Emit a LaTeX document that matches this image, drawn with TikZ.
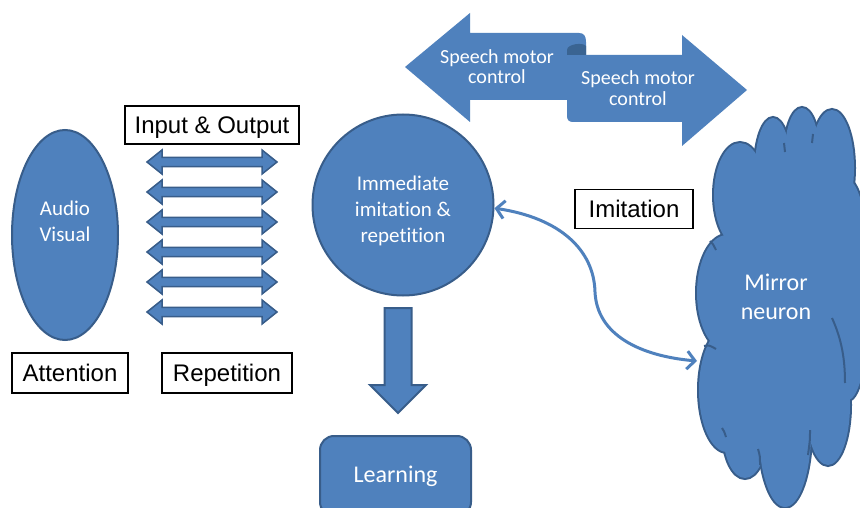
\documentclass[tikz,border=0pt]{standalone}
\usepackage{fontspec}
\setmainfont{Liberation Sans}
\newfontfamily\calibri[Ligatures=NoCommon]{Carlito}
\usetikzlibrary{arrows.meta,shapes.geometric}
\definecolor{fillblue}{HTML}{4F81BD}
\definecolor{lineblue}{HTML}{385D8A}
\definecolor{rolldark}{HTML}{3A6492}

\begin{document}
\begin{tikzpicture}[x=1pt,y=-1pt,
    blueshape/.style={fill=fillblue,draw=lineblue,line width=2pt},
    inwhite/.style={text=white,align=center,font=\calibri\fontsize{21}{26}\selectfont},
    tagbox/.style={draw=black,line width=1.2pt,fill=white,inner sep=0pt,
        text height=17.2pt,text depth=0pt,font=\fontsize{24}{28}\selectfont},
    link/.style={draw=fillblue,line width=3pt,
        {Straight Barb[length=8pt,width=18pt]}-{Straight Barb[length=8pt,width=18pt]}}]
    \fill[white] (0,0) rectangle (860,508); %背景
    \useasboundingbox (0,0) rectangle (860,508);

    % 雲 (Mirror neuron)
    \def\puffs{740/195/26pt/52pt, 773/168/18pt/50pt, 802/152/17pt/44pt,
        832/168/22pt/58pt, 848/290/22pt/110pt, 727/293/30pt/58pt,
        727/390/28pt/62pt, 745/432/22pt/46pt, 785/432/26pt/75pt,
        828/405/22pt/60pt}
    \foreach \cx/\cy/\rx/\ry in \puffs
        \draw[lineblue,line width=4pt] (\cx,\cy) ellipse [x radius=\rx,y radius=\ry];
    \foreach \cx/\cy/\rx/\ry in \puffs
        \fill[fillblue] (\cx,\cy) ellipse [x radius=\rx,y radius=\ry];
    \fill[fillblue] (785,300) ellipse [x radius=55pt,y radius=160pt];
    \draw[lineblue,line width=2pt] (832,318) .. controls (842,340) and (845,360) .. (845,383);
    \draw[lineblue,line width=2pt] (710,241) .. controls (713,244) .. (716,250);
    \draw[lineblue,line width=2pt] (704,346) .. controls (709,345) .. (716,349);
    \draw[lineblue,line width=2pt] (722,428) .. controls (724,431) .. (726,437);
    \draw[lineblue,line width=2pt] (758,449) .. controls (760,456) .. (760,465);
    \draw[lineblue,line width=2pt] (810,430) .. controls (810,440) .. (808,455);
    \draw[lineblue,line width=2pt] (784,143) -- (785,152);
    \draw[lineblue,line width=2pt] (813,134) -- (812,143);
    \coordinate (mnedge) at (697,361);
    \node[inwhite,font=\calibri\fontsize{24}{29}\selectfont] (mn) at (776,297) {Mirror\\neuron};

    % 上の矢印 (Speech motor control)
    \fill[fillblue] (405,67) -- (470,13) -- (470,33) -- (579,33) .. controls (584,33) and (586,36) .. (586,42)
        -- (586,100) -- (470,100) -- (470,122) -- cycle;
    \fill[fillblue] (567,50) -- (567,116) .. controls (567,120) and (569,122) .. (573,122) -- (682,122)
        -- (682,146) -- (747,90) -- (682,35) -- (682,55) -- (586,55) -- cycle;
    \fill[rolldark] (567,55) -- (567,50) .. controls (567,44) and (583,42) .. (586,46) -- (586,55) -- cycle;
    \node[inwhite,font=\calibri\fontsize{20}{20}\selectfont] (smcl) at (497,67) {Speech motor\\control};
    \node[inwhite,font=\calibri\fontsize{20}{21}\selectfont] (smcr) at (638,88) {Speech motor\\control};

    % 左側
    \node[blueshape,ellipse,minimum width=106pt,minimum height=210pt] (av) at (65,235) {};
    \node[inwhite] (avtxt) at (65,221) {Audio\\Visual};
    \node[tagbox,minimum width=174pt,minimum height=38pt] (io) at (212,125) {Input \& Output};
    \node[tagbox,minimum width=116pt,minimum height=40pt] (att) at (70,373) {Attention};
    \node[tagbox,minimum width=130pt,minimum height=40pt] (rep) at (227,373) {Repetition};
    \foreach \y in {162,192,...,312}
        \draw[blueshape,line width=1.5pt] (147,\y) -- (162,{\y-12}) -- (162,{\y-4.7}) -- (262,{\y-4.7})
            -- (262,{\y-12}) -- (277,\y) -- (262,{\y+12}) -- (262,{\y+4.7}) -- (162,{\y+4.7})
            -- (162,{\y+12}) -- cycle; %両矢印

    % 中央
    \node[blueshape,circle,minimum size=181pt,inner sep=0pt] (imm) at (403,205) {};
    \node[inwhite] (immtxt) at (403,211) {Immediate\\imitation \&\\repetition};
    \draw[blueshape] (384.5,308) -- (411.5,308) -- (411.5,385) -- (426,385) -- (398,413)
        -- (370,385) -- (384.5,385) -- cycle; %下向き矢印
    \node[blueshape,rounded corners=14pt,minimum width=151pt,minimum height=80pt,
        inwhite,font=\calibri\fontsize{24}{28}\selectfont] (learn) at (395.5,476) {Learning};
    \node[tagbox,minimum width=118pt,minimum height=39pt] (imit) at (634,209) {Imitation};
    \draw[link] (imm.-2) .. controls (560,218) and (594,250) .. (595,292)
        .. controls (597,335) and (640,356) .. (mnedge);
\end{tikzpicture}
\end{document}
